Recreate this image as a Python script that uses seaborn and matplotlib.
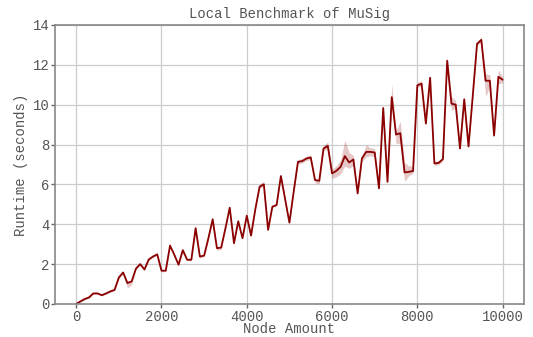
import numpy as np
import pandas as pd
import matplotlib
matplotlib.use("Agg")
import matplotlib.pyplot as plt
import seaborn as sns

nodes = list(range(0, 10001, 100))

runtime = [
    0.00, 0.13, 0.25, 0.33, 0.53, 0.53, 0.44, 0.53, 0.63, 0.71,
    1.33, 1.58, 1.05, 1.13, 1.77, 2.00, 1.73, 2.23, 2.38, 2.49,
    1.67, 1.67, 2.93, 2.47, 1.97, 2.70, 2.22, 2.22, 3.80, 2.38,
    2.43, 3.30, 4.25, 2.80, 2.83, 3.80, 4.83, 3.05, 4.15, 3.30,
    4.43, 3.43, 4.75, 5.88, 6.00, 3.72, 4.88, 4.97, 6.42, 5.25,
    4.08, 5.63, 7.13, 7.17, 7.30, 7.35, 6.22, 6.18, 7.80, 7.93,
    6.55, 6.68, 6.88, 7.42, 7.10, 7.25, 5.55, 7.30, 7.63, 7.63,
    7.60, 5.80, 9.83, 6.13, 10.38, 8.50, 8.57, 6.60, 6.63, 6.67,
    10.97, 11.05, 9.05, 11.35, 7.05, 7.08, 7.27, 12.20, 10.05, 10.00,
    7.80, 10.27, 7.90, 10.45, 13.05, 13.25, 11.20, 11.20, 8.45, 11.40,
    11.25,
]

err_low = [
    0.00, 0.04, 0.04, 0.04, 0.05, 0.05, 0.04, 0.04, 0.05, 0.05,
    0.06, 0.06, 0.25, 0.15, 0.05, 0.05, 0.05, 0.05, 0.05, 0.05,
    0.05, 0.05, 0.05, 0.05, 0.05, 0.05, 0.05, 0.05, 0.08, 0.08,
    0.05, 0.05, 0.05, 0.12, 0.08, 0.05, 0.05, 0.05, 0.05, 0.05,
    0.05, 0.05, 0.05, 0.08, 0.10, 0.08, 0.05, 0.05, 0.05, 0.05,
    0.05, 0.05, 0.10, 0.10, 0.10, 0.10, 0.15, 0.15, 0.10, 0.15,
    0.25, 0.30, 0.35, 0.50, 0.30, 0.30, 0.10, 0.15, 0.25, 0.20,
    0.20, 0.10, 0.10, 0.10, 0.30, 0.45, 0.50, 0.45, 0.20, 0.10,
    0.10, 0.10, 0.10, 0.10, 0.10, 0.10, 0.10, 0.20, 0.35, 0.15,
    0.10, 0.10, 0.10, 0.10, 0.10, 0.10, 0.80, 0.30, 0.10, 0.35,
    0.15,
]

err_high = [
    0.00, 0.04, 0.04, 0.04, 0.05, 0.05, 0.04, 0.04, 0.05, 0.05,
    0.06, 0.06, 0.10, 0.05, 0.05, 0.05, 0.05, 0.05, 0.05, 0.05,
    0.05, 0.05, 0.05, 0.05, 0.05, 0.05, 0.05, 0.05, 0.15, 0.05,
    0.05, 0.05, 0.05, 0.05, 0.05, 0.05, 0.05, 0.05, 0.05, 0.05,
    0.05, 0.05, 0.05, 0.15, 0.15, 0.05, 0.05, 0.05, 0.05, 0.05,
    0.05, 0.05, 0.12, 0.12, 0.12, 0.12, 0.05, 0.05, 0.15, 0.20,
    0.20, 0.25, 0.35, 0.80, 0.50, 0.20, 0.10, 0.15, 0.35, 0.20,
    0.20, 0.10, 0.10, 0.10, 0.65, 0.20, 0.60, 0.50, 0.30, 0.25,
    0.15, 0.15, 0.10, 0.10, 0.10, 0.10, 0.10, 0.25, 0.35, 0.20,
    0.10, 0.10, 0.10, 0.10, 0.10, 0.15, 0.35, 0.30, 0.10, 0.35,
    0.15,
]

# Three observations per node amount: lower, central, upper
rows = []
for n, m, lo, hi in zip(nodes, runtime, err_low, err_high):
    rows.append((n, m - lo))
    rows.append((n, m))
    rows.append((n, m + hi))
df = pd.DataFrame(rows, columns=["Node Amount", "Runtime (seconds)"])

sns.set_style("ticks")
plt.rcParams["font.family"] = ["Liberation Mono", "DejaVu Sans Mono"]

fig = plt.figure(figsize=(5.33, 3.37), dpi=100)
ax = fig.add_axes([0.103, 0.098, 0.880, 0.828])

sns.lineplot(data=df, x="Node Amount", y="Runtime (seconds)",
             estimator="median", errorbar=("pi", 100),
             color="#8b0000", linewidth=1.3, ax=ax,
             err_kws={"alpha": 0.22, "linewidth": 0})

ax.set_xlim(-500, 10500)
ax.set_ylim(0, 14)
ax.set_xticks([0, 2000, 4000, 6000, 8000, 10000])
ax.set_yticks([0, 2, 4, 6, 8, 10, 12, 14])
ax.grid(True, color="#cccccc", linewidth=0.9)
ax.set_axisbelow(True)
for s in ax.spines.values():
    s.set_color("#888888")
    s.set_linewidth(1.2)
ax.tick_params(colors="#666666", labelsize=10, length=3, width=1,
               labelcolor="#555555", pad=1)
ax.set_title("Local Benchmark of MuSig", fontsize=10, color="#555555", pad=5)
ax.set_xlabel("Node Amount", fontsize=10, color="#555555", labelpad=-1)
ax.set_ylabel("Runtime (seconds)", fontsize=10, color="#555555", labelpad=3)

fig.savefig("out.png", dpi=100)
